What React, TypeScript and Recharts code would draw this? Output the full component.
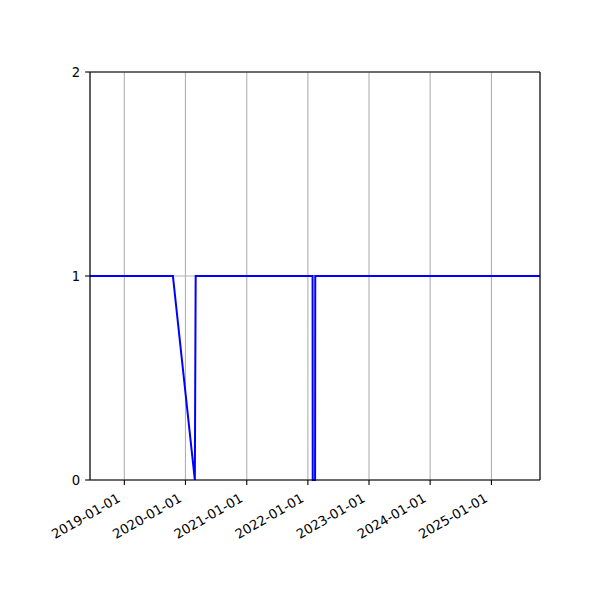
import { LineChart, Line, XAxis, YAxis, CartesianGrid, ReferenceLine } from "recharts";

const dates = [
  "2018-06-10", "2019-10-18", "2020-02-26", "2020-03-02",
  "2022-01-29", "2022-01-30", "2022-02-13", "2022-02-14", "2025-10-18",
];
const values = [1, 1, 0, 1, 1, 0, 0, 1, 1];
const yearTicks = [
  "2019-01-01", "2020-01-01", "2021-01-01", "2022-01-01",
  "2023-01-01", "2024-01-01", "2025-01-01",
];
const yTicks = [0, 1, 2];

const toTs = (d: string) => Date.parse(d + "T00:00:00Z");
const fmt = (t: number) => new Date(t).toISOString().slice(0, 10);

const data = dates.map((d, i) => ({ t: toTs(d), v: values[i] }));
const xMin = data[0].t;
const xMax = data[data.length - 1].t;
const font = "DejaVu Sans";
const fontSize = 13.2;

function DateTick(props: any) {
  const { x, y, payload } = props;
  return (
    <g transform={`translate(${x - 3},${y + 14})`}>
      <text
        x={0}
        y={0}
        textAnchor="end"
        transform="rotate(-30)"
        fontSize={fontSize}
        fontFamily={font}
        fill="#000"
      >
        {fmt(payload.value)}
      </text>
    </g>
  );
}

export default function App() {
  return (
    <div style={{ position: "absolute", left: 0, top: 0, width: 600, height: 600, background: "#fff" }}>
      <LineChart width={600} height={600} data={data} margin={{ top: 72, right: 60, bottom: 0, left: 0 }}>
        <CartesianGrid stroke="#b0b0b0" strokeWidth={1.1} />
        <XAxis
          dataKey="t"
          type="number"
          scale="time"
          domain={[xMin, xMax]}
          ticks={yearTicks.map(toTs)}
          tick={<DateTick />}
          height={120}
          stroke="#000"
          strokeWidth={1.1}
          tickSize={4.9}
          interval={0}
        />
        <YAxis
          domain={[0, 2]}
          ticks={yTicks}
          width={90}
          stroke="#000"
          strokeWidth={1.1}
          tickSize={4.9}
          tickMargin={5}
          tick={{ fontSize, fontFamily: font, fill: "#000" }}
        />
        <Line
          type="linear"
          dataKey="v"
          stroke="#0000ff"
          strokeWidth={2}
          dot={false}
          isAnimationActive={false}
        />
        <ReferenceLine y={2} stroke="#000" strokeWidth={1.1} />
        <ReferenceLine x={xMax} stroke="#000" strokeWidth={1.1} />
      </LineChart>
    </div>
  );
}
